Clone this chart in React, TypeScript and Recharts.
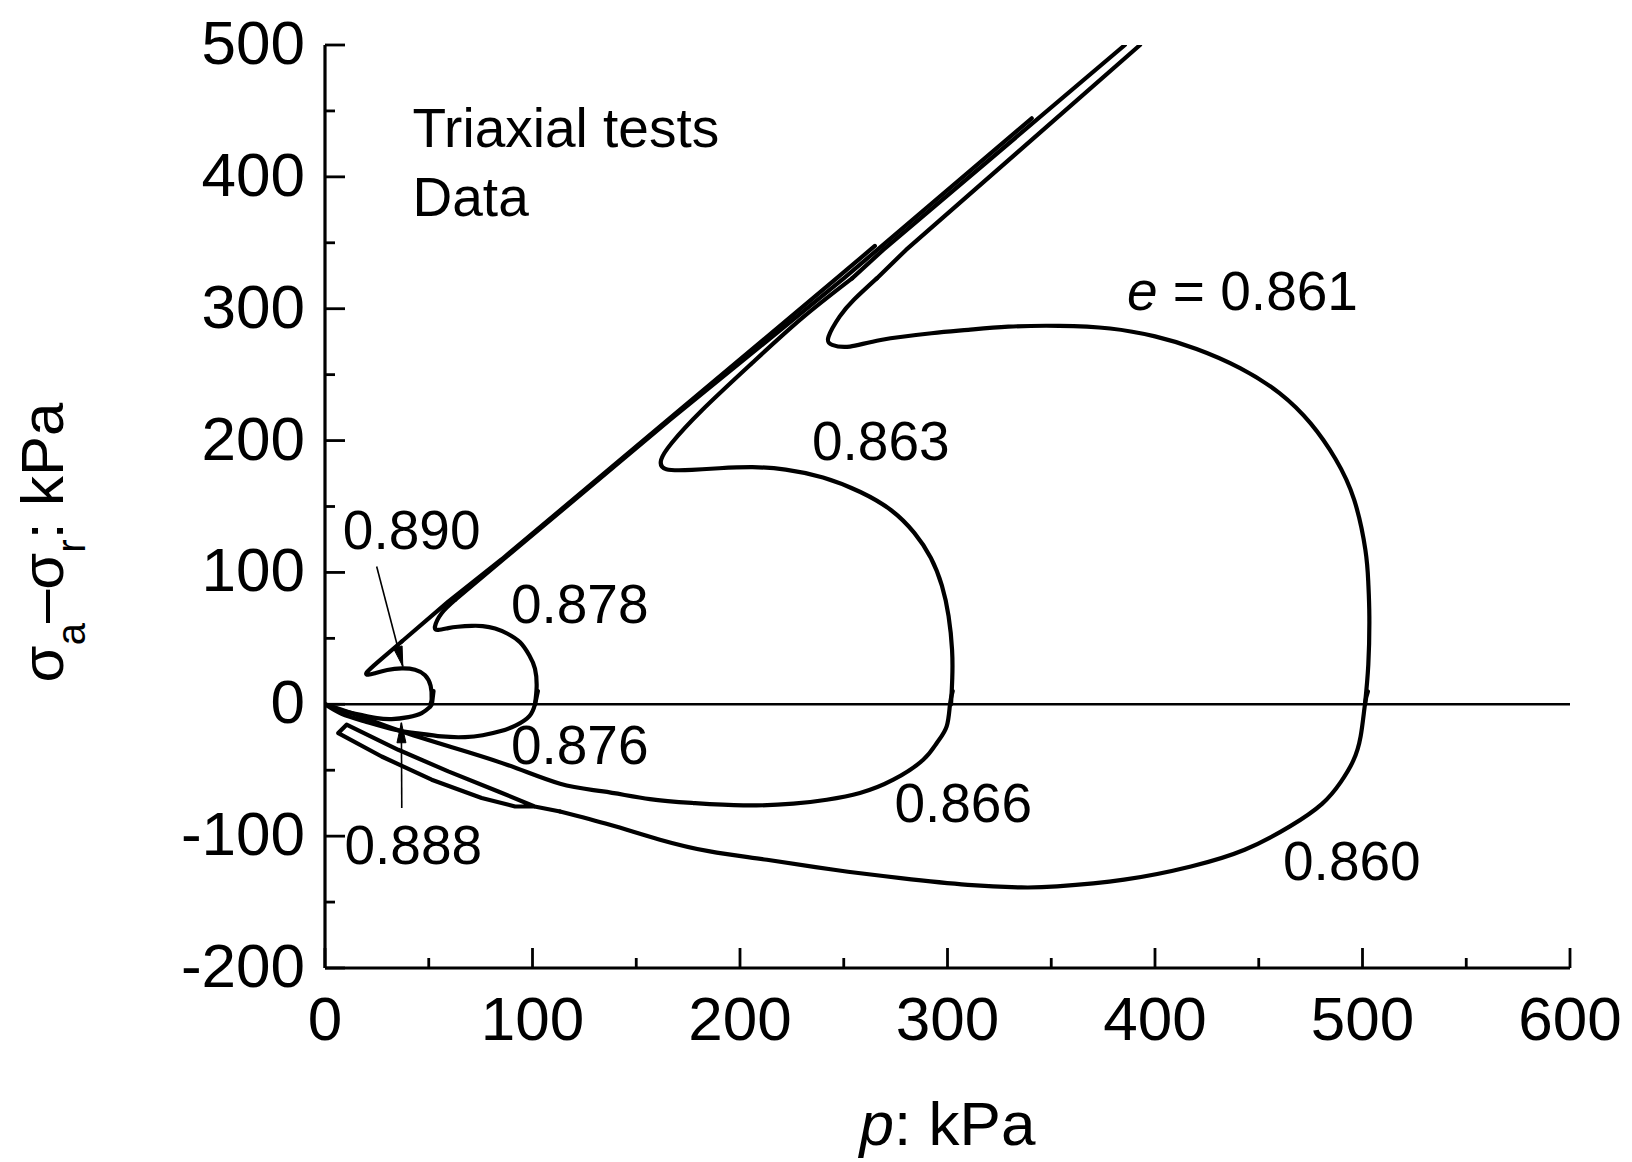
import React from 'react';
import { LineChart, Line, XAxis, YAxis, ReferenceLine, ReferenceDot, Label } from 'recharts';

type Pt = { p: number; q: number };

const FONT = '"Liberation Sans", Arial, Helvetica, sans-serif';

// ---- axis ticks ----
const xTicks = [0, 50, 100, 150, 200, 250, 300, 350, 400, 450, 500, 550, 600];
const yTicks = [-200, -150, -100, -50, 0, 50, 100, 150, 200, 250, 300, 350, 400, 450, 500];

// ---- stress paths (p, q) in kPa ----
const comp0890: Pt[] = [
  { p: 50.8, q: 0 }, { p: 51.4, q: 4 }, { p: 50.9, q: 14 }, { p: 48.2, q: 22 }, { p: 43.4, q: 26.2 },
  { p: 37, q: 27.2 }, { p: 30, q: 26 }, { p: 24, q: 23.5 }, { p: 20.9, q: 22.4 }, { p: 20.1, q: 24.1 },
  { p: 25.7, q: 32.4 }, { p: 37, q: 47.6 }, { p: 59.4, q: 77.9 }, { p: 85.2, q: 110 }, { p: 165.5, q: 216 },
  { p: 246.5, q: 323 }, { p: 265, q: 347.6 },
];

const ext0888: Pt[] = [
  { p: 52.3, q: 10 }, { p: 51.6, q: 1 }, { p: 50.6, q: -2 }, { p: 46.6, q: -6.7 }, { p: 40.2, q: -9.7 },
  { p: 32.1, q: -11.2 }, { p: 25, q: -10.5 }, { p: 19.3, q: -8.7 }, { p: 8, q: -4.7 }, { p: 0, q: 0 },
];

const comp0878: Pt[] = [
  { p: 101.2, q: 0 }, { p: 102, q: 13.5 }, { p: 101.2, q: 27 }, { p: 98.5, q: 37 }, { p: 94, q: 47 },
  { p: 88, q: 53.5 }, { p: 82, q: 57.5 }, { p: 76, q: 59.3 }, { p: 70.7, q: 59.5 }, { p: 64, q: 58.8 },
  { p: 59.4, q: 57.8 }, { p: 54.6, q: 56.5 }, { p: 53, q: 59 }, { p: 56.2, q: 69.1 }, { p: 62.7, q: 79.2 },
  { p: 166.5, q: 216 }, { p: 250, q: 323 }, { p: 340.6, q: 444.4 },
];

const ext0876: Pt[] = [
  { p: 102.6, q: 10 }, { p: 101.2, q: 0 }, { p: 98.5, q: -9 }, { p: 92, q: -16 }, { p: 84.3, q: -20.5 },
  { p: 76, q: -23.5 }, { p: 67.5, q: -24.9 }, { p: 56.2, q: -24.4 }, { p: 43.4, q: -21.8 },
  { p: 33.7, q: -19.3 }, { p: 19.3, q: -13 }, { p: 8, q: -7.2 }, { p: 0, q: 0 },
];

const comp0863: Pt[] = [
  { p: 301.7, q: 0 }, { p: 302.3, q: 20 }, { p: 302.2, q: 41.3 }, { p: 300.5, q: 67 }, { p: 297.3, q: 90 },
  { p: 292, q: 111 }, { p: 284, q: 130 }, { p: 273, q: 147 }, { p: 258, q: 161 }, { p: 240, q: 172 },
  { p: 222, q: 178 }, { p: 206, q: 179.8 }, { p: 190, q: 179 }, { p: 176.8, q: 177.8 },
  { p: 164.5, q: 178.3 }, { p: 162, q: 185.4 }, { p: 167, q: 198 }, { p: 181.7, q: 223 }, { p: 206, q: 259 },
  { p: 230, q: 293 }, { p: 254, q: 323 }, { p: 269, q: 344.6 }, { p: 385.5, q: 500 },
];

const ext0866: Pt[] = [
  { p: 302.5, q: 10 }, { p: 301.2, q: 0 }, { p: 299.6, q: -16.8 }, { p: 295, q: -29 }, { p: 288.3, q: -42.1 },
  { p: 273.9, q: -57.2 }, { p: 257.8, q: -67.3 }, { p: 241.8, q: -72.4 }, { p: 225.7, q: -75.4 },
  { p: 201.6, q: -76.7 }, { p: 177.5, q: -74.9 }, { p: 156.6, q: -71.9 }, { p: 134.1, q: -66.1 },
  { p: 113.3, q: -60.3 }, { p: 88, q: -46 }, { p: 60, q: -32 }, { p: 35, q: -19.5 }, { p: 15, q: -8 },
  { p: 0, q: 0 },
];

const comp0861: Pt[] = [
  { p: 501.2, q: 0 }, { p: 502.8, q: 30 }, { p: 503.3, q: 66.6 }, { p: 502.8, q: 92 }, { p: 501.4, q: 117 },
  { p: 496, q: 155 }, { p: 487, q: 186 }, { p: 475, q: 213 }, { p: 460, q: 236 }, { p: 441, q: 255 },
  { p: 420, q: 269.5 }, { p: 400, q: 279 }, { p: 378.4, q: 285 }, { p: 353.8, q: 287 }, { p: 329.3, q: 286.4 },
  { p: 310, q: 284 }, { p: 292.3, q: 281.4 }, { p: 267.8, q: 276.3 }, { p: 253, q: 271.3 },
  { p: 244.4, q: 272.6 }, { p: 242.7, q: 278.9 }, { p: 248, q: 294 }, { p: 255, q: 307 },
  { p: 265.9, q: 323 }, { p: 280, q: 344.6 }, { p: 392.8, q: 500 },
];

const ext0860: Pt[] = [
  { p: 502.6, q: 9.7 }, { p: 501.2, q: 0 }, { p: 499.1, q: -24.4 }, { p: 495.5, q: -43 },
  { p: 489.5, q: -59 }, { p: 480.5, q: -75.5 }, { p: 465, q: -92.6 }, { p: 443.2, q: -110.3 },
  { p: 417.3, q: -123 }, { p: 385.1, q: -133 }, { p: 352.8, q: -138.1 }, { p: 335.6, q: -138.9 },
  { p: 309.8, q: -136.9 }, { p: 277.5, q: -131.8 }, { p: 245.3, q: -125.5 }, { p: 213, q: -117.9 },
  { p: 185.5, q: -111.6 }, { p: 161.4, q: -102.7 }, { p: 137.3, q: -91.4 }, { p: 113.3, q: -81.3 },
  { p: 101, q: -77.5 }, { p: 91.6, q: -77.5 }, { p: 75.5, q: -71.1 }, { p: 51.4, q: -57.2 },
  { p: 27.3, q: -39.6 }, { p: 6.4, q: -21.8 }, { p: 10.4, q: -15.5 }, { p: 35.3, q: -34.5 },
  { p: 59.4, q: -50.9 }, { p: 83.5, q: -66.1 }, { p: 101, q: -77.5 },
];

// each path: smooth (spline) up to index `split`, straight after it
const paths: { data: Pt[]; split: number }[] = [
  { data: comp0890, split: 11 },
  { data: ext0888, split: 9 },
  { data: comp0878, split: 14 },
  { data: ext0876, split: 12 },
  { data: comp0863, split: 20 },
  { data: ext0866, split: 18 },
  { data: comp0861, split: 23 },
  { data: ext0860, split: 19 },
];

// ---- annotation arrows (tail -> tip) ----
const arrow0890: Pt[] = [{ p: 24.9, q: 104.5 }, { p: 37.5, q: 28.7 }];
const arrow0888: Pt[] = [{ p: 37, q: -78.7 }, { p: 36.8, q: -14 }];

// ---- curve labels (void ratio e) ----
const curveLabels = [
  { text: '0.890', p: 8.6, q: 117.9 },
  { text: '0.878', p: 89.6, q: 61.6 },
  { text: '0.876', p: 89.6, q: -45.3 },
  { text: '0.888', p: 9.4, q: -120.9 },
  { text: '0.863', p: 234.7, q: 184.9 },
  { text: '0.866', p: 274.4, q: -88.9 },
  { text: '0.860', p: 461.7, q: -133.1 },
];
const eLabel = { value: '0.861', p: 386.5, q: 299.2 };
const titleLines = [
  { text: 'Triaxial tests', p: 42.2, q: 423 },
  { text: 'Data', p: 42.2, q: 370.5 },
];

// ---- layout ----
const W = 1632;
const H = 1162;
const MARGIN = { top: 45, right: 62, bottom: 94, left: 225 };
const Y_AXIS_W = 100;
const X_AXIS_H = 100;
const PLOT_W = W - MARGIN.left - MARGIN.right - Y_AXIS_W;
const PLOT_H = H - MARGIN.top - MARGIN.bottom - X_AXIS_H;
const X_DOMAIN: [number, number] = [0, 600];
const Y_DOMAIN: [number, number] = [-200, 500];
const KX = PLOT_W / (X_DOMAIN[1] - X_DOMAIN[0]);
const KY = PLOT_H / (Y_DOMAIN[1] - Y_DOMAIN[0]);
const CURVE_W = 4.2;

const XTick = (props: any) => {
  const { x, y, payload } = props;
  const v = payload.value;
  const major = v % 100 === 0;
  return (
    <g>
      <line x1={x} x2={x} y1={y} y2={y - (major ? 20 : 10)} stroke="#000" strokeWidth={2.8} />
      {major && (
        <text x={x} y={y + 72} textAnchor="middle" fontFamily={FONT} fontSize={62} fill="#000">
          {String(v)}
        </text>
      )}
    </g>
  );
};

const YTick = (props: any) => {
  const { x, y, payload } = props;
  const v = payload.value;
  const major = v % 100 === 0;
  return (
    <g>
      <line x1={x} x2={x + (major ? 20 : 10)} y1={y} y2={y} stroke="#000" strokeWidth={2.8} />
      {major && (
        <text x={x - 20} y={y + 19} textAnchor="end" fontFamily={FONT} fontSize={62} fill="#000">
          {String(v)}
        </text>
      )}
    </g>
  );
};

const XTitle = (props: any) => {
  const vb = props.viewBox || {};
  const cx = vb.x + vb.width / 2;
  const by = vb.y + 177;
  return (
    <text x={cx} y={by} textAnchor="middle" fontFamily={FONT} fontSize={62} fill="#000">
      <tspan fontStyle="italic">p</tspan>
      <tspan>: kPa</tspan>
    </text>
  );
};

const YTitle = (props: any) => {
  const vb = props.viewBox || {};
  const cx = vb.x - 162;
  const cy = vb.y + vb.height / 2 + 36;
  return (
    <text
      x={cx}
      y={cy}
      transform={`rotate(-90, ${cx}, ${cy})`}
      textAnchor="middle"
      fontFamily={FONT}
      fontSize={60}
      fill="#000"
    >
      <tspan>σ</tspan>
      <tspan dy={22} fontSize={40}>a</tspan>
      <tspan dy={-22}>–σ</tspan>
      <tspan dy={22} fontSize={40}>r</tspan>
      <tspan dy={-22}>: kPa</tspan>
    </text>
  );
};

const makeText = (text: string, size: number) => (props: any) => (
  <text x={props.cx} y={props.cy} fontFamily={FONT} fontSize={size} fill="#000">
    {text}
  </text>
);

const ELabelShape = (props: any) => (
  <text x={props.cx} y={props.cy} fontFamily={FONT} fontSize={55} fill="#000">
    <tspan fontStyle="italic">e</tspan>
    <tspan>{' = ' + eLabel.value}</tspan>
  </text>
);

const makeArrowHead = (arrow: Pt[]) => (props: any) => {
  const a = arrow[0];
  const b = arrow[arrow.length - 1];
  const dx = (b.p - a.p) * KX;
  const dy = -(b.q - a.q) * KY;
  const len = Math.sqrt(dx * dx + dy * dy) || 1;
  const ux = dx / len;
  const uy = dy / len;
  const nx = -uy;
  const ny = ux;
  const L = 20;
  const hw = 4.5;
  const tx = props.cx;
  const ty = props.cy;
  const bx = tx - ux * L;
  const by = ty - uy * L;
  const pts = `${tx},${ty} ${bx + nx * hw},${by + ny * hw} ${bx - nx * hw},${by - ny * hw}`;
  return <polygon points={pts} fill="#000" stroke="#000" strokeWidth={1} />;
};

export default function App() {
  return (
    <div style={{ position: 'absolute', left: 0, top: 0, width: W, height: H, background: '#fff' }}>
      <LineChart width={W} height={H} margin={MARGIN}>
        <XAxis
          type="number"
          dataKey="p"
          domain={X_DOMAIN}
          ticks={xTicks}
          interval={0}
          tickSize={0}
          tickMargin={0}
          tickLine={false}
          axisLine={{ stroke: '#000', strokeWidth: 3.2 }}
          tick={(p: any) => <XTick {...p} />}
          height={X_AXIS_H}
          allowDataOverflow
        >
          <Label content={(p: any) => <XTitle {...p} />} />
        </XAxis>
        <YAxis
          type="number"
          dataKey="q"
          domain={Y_DOMAIN}
          ticks={yTicks}
          interval={0}
          tickSize={0}
          tickMargin={0}
          tickLine={false}
          axisLine={{ stroke: '#000', strokeWidth: 3.2 }}
          tick={(p: any) => <YTick {...p} />}
          width={Y_AXIS_W}
          allowDataOverflow
        >
          <Label content={(p: any) => <YTitle {...p} />} />
        </YAxis>
        <ReferenceLine y={0} stroke="#000" strokeWidth={2.5} />
        {paths.map((s, i) => (
          <Line
            key={'curve' + i}
            data={s.data.slice(0, s.split + 1)}
            dataKey="q"
            type="natural"
            stroke="#000"
            strokeWidth={CURVE_W}
            strokeLinejoin="round"
            strokeLinecap="round"
            dot={false}
            activeDot={false}
            isAnimationActive={false}
          />
        ))}
        {paths.map((s, i) =>
          s.split < s.data.length - 1 ? (
            <Line
              key={'straight' + i}
              data={s.data.slice(s.split)}
              dataKey="q"
              type="linear"
              stroke="#000"
              strokeWidth={CURVE_W}
              strokeLinejoin="round"
              strokeLinecap="round"
              dot={false}
              activeDot={false}
              isAnimationActive={false}
            />
          ) : null
        )}
        <Line data={arrow0890} dataKey="q" type="linear" stroke="#000" strokeWidth={1.6} dot={false} activeDot={false} isAnimationActive={false} />
        <Line data={arrow0888} dataKey="q" type="linear" stroke="#000" strokeWidth={1.6} dot={false} activeDot={false} isAnimationActive={false} />
        <ReferenceDot x={arrow0890[1].p} y={arrow0890[1].q} r={0} shape={makeArrowHead(arrow0890)} />
        <ReferenceDot x={arrow0888[1].p} y={arrow0888[1].q} r={0} shape={makeArrowHead(arrow0888)} />
        {curveLabels.map((l) => (
          <ReferenceDot key={l.text} x={l.p} y={l.q} r={0} shape={makeText(l.text, 55)} />
        ))}
        <ReferenceDot x={eLabel.p} y={eLabel.q} r={0} shape={(p: any) => <ELabelShape {...p} />} />
        {titleLines.map((l) => (
          <ReferenceDot key={l.text} x={l.p} y={l.q} r={0} shape={makeText(l.text, 55)} />
        ))}
      </LineChart>
    </div>
  );
}
